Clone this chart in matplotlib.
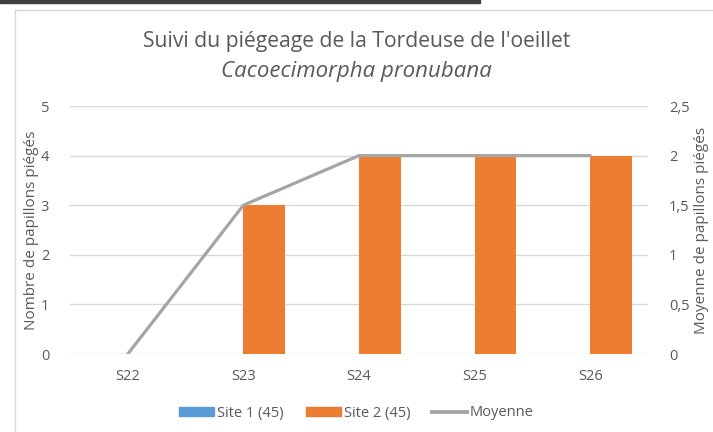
import numpy as np
import matplotlib.pyplot as plt
from matplotlib.lines import Line2D
from matplotlib.patches import Rectangle, Patch

plt.rcParams['font.family'] = ['Open Sans', 'DejaVu Sans']

# données
semaines = ["S22", "S23", "S24", "S25", "S26"]
site1 = [0, 0, 0, 0, 0]
site2 = [0, 3, 4, 4, 4]
moyenne = [0, 1.5, 2, 2, 2]

gris_txt = "#595959"
c_site1 = "#5b9bd5"
c_site2 = "#ed7d31"
c_moy = "#a5a5a5"

fig = plt.figure(figsize=(7.13, 4.32), dpi=100)
ax = fig.add_axes([70 / 713, 1 - 354 / 432, 578 / 713, 248 / 432])
ax2 = ax.twinx()

x = np.arange(len(semaines))
w = 0.36
ax.bar(x - w / 2, site1, w, color=c_site1, zorder=2)
ax.bar(x + w / 2, site2, w, color=c_site2, zorder=2)
ax2.plot(x, moyenne, color=c_moy, lw=2.3, solid_capstyle="round", zorder=3)

ax.set_xlim(-0.5, len(semaines) - 0.5)
ax.set_ylim(0, 5)
ax2.set_ylim(0, 2.5)
ax.set_yticks(range(6))
ax2.set_yticks([0, 0.5, 1, 1.5, 2, 2.5])
ax2.set_yticklabels(["0", "0,5", "1", "1,5", "2", "2,5"])
ax.set_xticks(x)
ax.set_xticklabels(semaines)

ax.grid(axis="y", color="#d9d9d9", lw=1, zorder=0)
ax.set_axisbelow(True)
for a in (ax, ax2):
    for s in a.spines.values():
        s.set_visible(False)
    a.tick_params(length=0, colors=gris_txt, labelsize=10.5)
ax.tick_params(axis="y", pad=15)
ax2.tick_params(axis="y", pad=15)
ax.tick_params(axis="x", pad=11)

ax.set_ylabel("Nombre de papillons piégés", color=gris_txt, fontsize=11, labelpad=1)
ax2.set_ylabel("Moyenne de papillons piégés", color=gris_txt, fontsize=11, labelpad=3)

fig.text(0.5, 1 - 42 / 432, "Suivi du piégeage de la Tordeuse de l'oeillet",
         ha="center", va="center", fontsize=15.2, color=gris_txt)
fig.text(0.5, 1 - 72 / 432, "Cacoecimorpha pronubana", ha="center", va="center",
         fontsize=16, color=gris_txt, style="italic")

handles = [Patch(color=c_site1), Patch(color=c_site2), Line2D([], [], color=c_moy, lw=2.8)]
fig.legend(handles, ["Site 1 (45)", "Site 2 (45)", "Moyenne"], loc="center",
           bbox_to_anchor=(0.5, 1 - 413 / 432), ncol=3, frameon=False, fontsize=10.5,
           labelcolor=gris_txt, handlelength=2.4, handleheight=0.55,
           handletextpad=0.2, columnspacing=1.5)

# cadre du graphique et bande sombre en haut
fig.add_artist(Line2D([15 / 713, 15 / 713], [0, 1 - 10 / 432], color="#d9d9d9", lw=1))
fig.add_artist(Line2D([15 / 713, 1], [1 - 10 / 432, 1 - 10 / 432], color="#d9d9d9", lw=1))
fig.add_artist(Rectangle((0, 1 - 3 / 432), 480 / 713, 3 / 432, color="#404040",
                         transform=fig.transFigure))

fig.savefig("out.png", dpi=100)
